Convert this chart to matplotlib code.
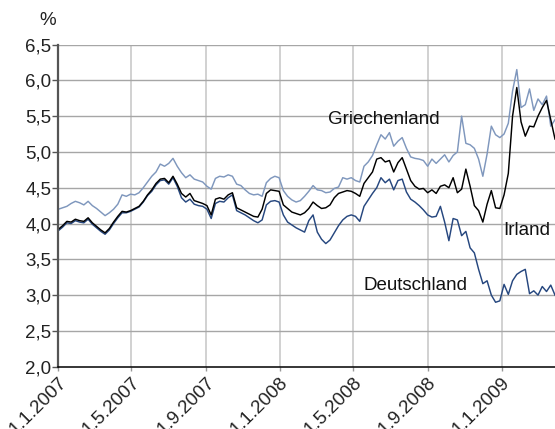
import matplotlib
matplotlib.use("Agg")
import matplotlib.pyplot as plt
import matplotlib.transforms as mtransforms
import pandas as pd

plt.rcParams["font.family"] = ["Liberation Sans", "DejaVu Sans"]

# Weekly yields of 10-year government bonds, % (Jan 2007 - Mar 2009)
dates = pd.date_range("2007-01-01", periods=118, freq="7D")

griechenland = [
    4.20, 4.22, 4.24, 4.28, 4.31, 4.29, 4.26, 4.31, 4.25, 4.21,
    4.16, 4.11, 4.15, 4.20, 4.27, 4.40, 4.38, 4.41, 4.40, 4.43,
    4.50, 4.58, 4.66, 4.72, 4.83, 4.80, 4.84, 4.91, 4.80, 4.71,
    4.64, 4.68, 4.62, 4.60, 4.58, 4.52, 4.48, 4.63, 4.66, 4.65,
    4.68, 4.66, 4.55, 4.53, 4.47, 4.42, 4.40, 4.41, 4.38, 4.57,
    4.63, 4.66, 4.64, 4.46, 4.38, 4.33, 4.30, 4.32, 4.38, 4.45,
    4.53, 4.47, 4.46, 4.43, 4.44, 4.49, 4.51, 4.64, 4.62, 4.64,
    4.60, 4.58, 4.80, 4.86, 4.95, 5.10, 5.24, 5.18, 5.27, 5.08,
    5.15, 5.20, 5.05, 4.93, 4.91, 4.90, 4.88, 4.80, 4.90, 4.84,
    4.90, 4.96, 4.86, 4.95, 5.00, 5.50, 5.12, 5.10, 5.05, 4.90,
    4.66, 4.97, 5.36, 5.24, 5.20, 5.25, 5.40, 5.85, 6.15, 5.62,
    5.66, 5.88, 5.58, 5.74, 5.66, 5.78, 5.36, 5.45,
]

irland = [
    3.92, 3.97, 4.03, 4.02, 4.06, 4.04, 4.03, 4.08, 4.01, 3.96,
    3.91, 3.87, 3.93, 4.02, 4.10, 4.17, 4.16, 4.18, 4.21, 4.24,
    4.31, 4.40, 4.47, 4.56, 4.62, 4.63, 4.57, 4.66, 4.55, 4.42,
    4.37, 4.42, 4.32, 4.30, 4.28, 4.25, 4.12, 4.34, 4.36, 4.34,
    4.40, 4.43, 4.22, 4.19, 4.16, 4.13, 4.10, 4.09, 4.20, 4.42,
    4.47, 4.46, 4.45, 4.26, 4.21, 4.16, 4.14, 4.12, 4.15, 4.21,
    4.30, 4.25, 4.21, 4.22, 4.26, 4.36, 4.42, 4.44, 4.46, 4.45,
    4.42, 4.38, 4.56, 4.64, 4.72, 4.90, 4.92, 4.86, 4.88, 4.72,
    4.85, 4.92, 4.76, 4.60, 4.52, 4.48, 4.49, 4.43, 4.47, 4.42,
    4.52, 4.54, 4.50, 4.64, 4.43, 4.48, 4.76, 4.52, 4.25, 4.18,
    4.02, 4.27, 4.46, 4.22, 4.21, 4.40, 4.70, 5.50, 5.90, 5.42,
    5.22, 5.36, 5.35, 5.50, 5.62, 5.72, 5.45, 5.18,
]

deutschland = [
    3.90, 3.95, 4.01, 4.00, 4.04, 4.02, 4.01, 4.06, 3.99, 3.94,
    3.89, 3.85, 3.91, 4.00, 4.08, 4.15, 4.15, 4.17, 4.20, 4.23,
    4.30, 4.39, 4.45, 4.54, 4.60, 4.61, 4.55, 4.64, 4.52, 4.36,
    4.30, 4.34, 4.27, 4.25, 4.24, 4.20, 4.07, 4.28, 4.31, 4.30,
    4.36, 4.40, 4.18, 4.15, 4.12, 4.08, 4.04, 4.01, 4.05, 4.26,
    4.31, 4.32, 4.30, 4.12, 4.02, 3.98, 3.94, 3.91, 3.88, 4.04,
    4.12, 3.88, 3.78, 3.72, 3.77, 3.87, 3.97, 4.05, 4.10, 4.12,
    4.10, 4.03, 4.24, 4.33, 4.42, 4.50, 4.64, 4.57, 4.62, 4.47,
    4.60, 4.62, 4.44, 4.34, 4.30, 4.25, 4.19, 4.12, 4.09, 4.10,
    4.24, 4.02, 3.76, 4.07, 4.05, 3.83, 3.89, 3.66, 3.59, 3.36,
    3.16, 3.20, 3.00, 2.90, 2.92, 3.15, 3.01, 3.20, 3.29, 3.33,
    3.36, 3.02, 3.06, 3.00, 3.12, 3.05, 3.14, 3.00,
]

tick_dates = pd.to_datetime([
    "2007-01-01", "2007-05-01", "2007-09-01", "2008-01-01",
    "2008-05-01", "2008-09-01", "2009-01-01",
])
tick_labels = [f"{d.day}.{d.month}.{d.year}" for d in tick_dates]
y_ticks = [2.0, 2.5, 3.0, 3.5, 4.0, 4.5, 5.0, 5.5, 6.0, 6.5]
y_labels = [f"{v:.1f}".replace(".", ",") for v in y_ticks]

col_gr = "#7f97bd"
col_ie = "#000000"
col_de = "#26477f"
fs = 13.5

fig = plt.figure(figsize=(5.55, 4.29), dpi=100)
ax = fig.add_axes([0.1052, 0.1452, 0.8948, 0.751])

ax.plot(dates, griechenland, color=col_gr, lw=1.05, zorder=3)
ax.plot(dates, deutschland, color=col_de, lw=1.05, zorder=4)
ax.plot(dates, irland, color=col_ie, lw=1.05, zorder=5)

ax.set_xlim(pd.Timestamp("2007-01-01"), pd.Timestamp("2009-03-30"))
ax.set_ylim(2.0, 6.5)

ax.set_yticks(y_ticks)
ax.set_yticklabels(y_labels, fontsize=fs, color="#222222")
ax.set_xticks(tick_dates)
ax.set_xticklabels(tick_labels, fontsize=fs, color="#222222",
                   rotation=45, ha="right", va="top", rotation_mode="anchor")
# shift the rotated date labels a little to the right of their ticks
offset = mtransforms.ScaledTranslation(0.065, 0.025, fig.dpi_scale_trans)
for lbl in ax.get_xticklabels():
    lbl.set_transform(lbl.get_transform() + offset)

# grid: light vertical lines at the date ticks, darker horizontal lines
for d in tick_dates[1:]:
    ax.axvline(d, color="#c9c9c9", lw=1.2, zorder=1)
for v in y_ticks[1:]:
    ax.axhline(v, color="#a6a6a6", lw=1.0, zorder=1)

for side in ("top", "right"):
    ax.spines[side].set_visible(False)
ax.spines["left"].set_color("#555555")
ax.spines["left"].set_linewidth(1.6)
ax.spines["bottom"].set_color("#000000")
ax.spines["bottom"].set_linewidth(1.1)
ax.spines["left"].set_zorder(6)
ax.spines["bottom"].set_zorder(6)
ax.tick_params(axis="y", length=4, width=1.0, color="#555555", pad=1)
ax.tick_params(axis="x", length=3, width=1.0, color="#999999", pad=2)

ax.text(-0.005, 1.075, "%", transform=ax.transAxes, ha="right", va="center",
        fontsize=fs, color="#222222")

ax.text(pd.Timestamp("2008-03-20"), 5.39, "Griechenland", fontsize=fs,
        ha="left", va="baseline", color="#111111", zorder=7)
ax.text(pd.Timestamp("2009-01-03"), 3.84, "Irland", fontsize=fs,
        ha="left", va="baseline", color="#111111", zorder=7)
ax.text(pd.Timestamp("2008-11-06"), 3.07, "Deutschland", fontsize=fs,
        ha="right", va="baseline", color="#111111", zorder=7)

fig.savefig("out.png", dpi=100)
